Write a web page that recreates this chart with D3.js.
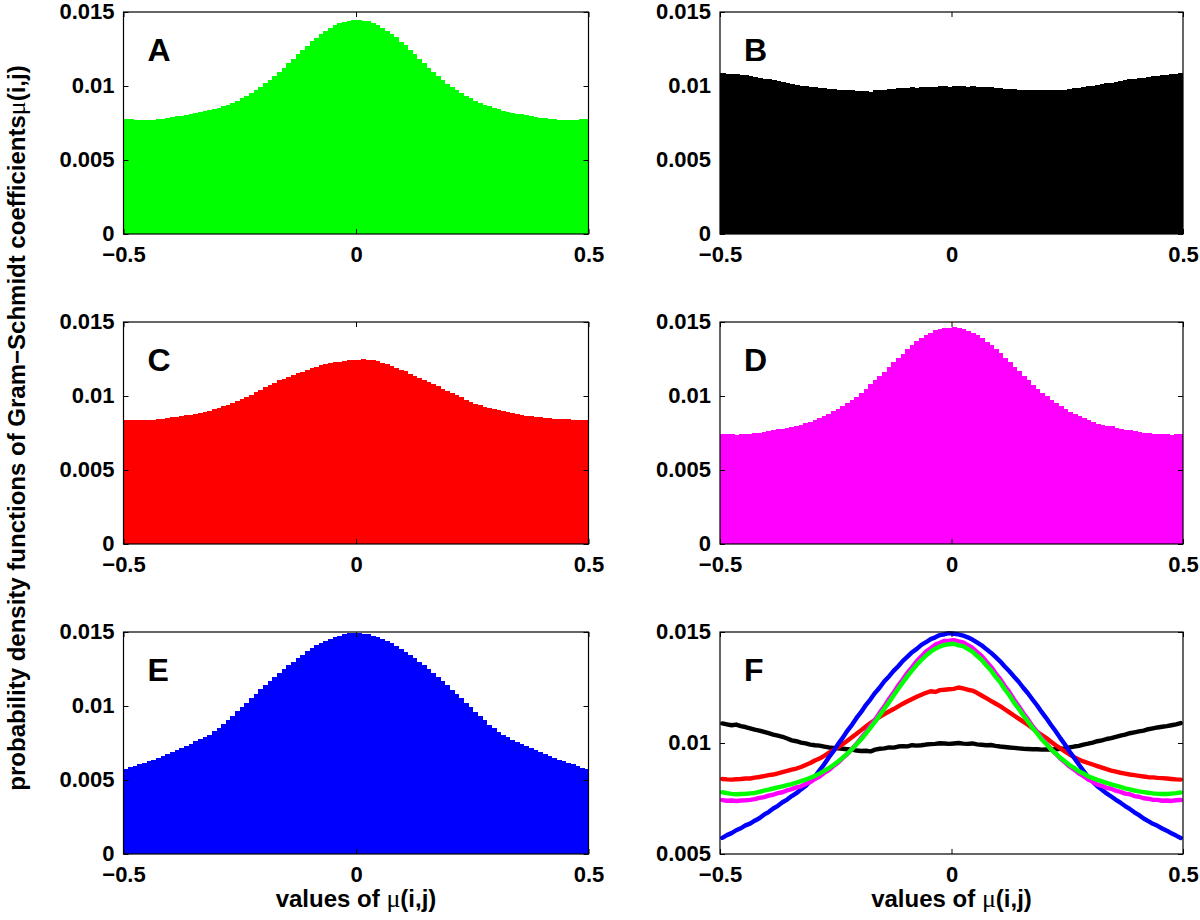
<!DOCTYPE html>
<html>
<head>
<meta charset="utf-8">
<script src="https://cdn.jsdelivr.net/npm/d3@7"></script>
<style>
  html, body { margin: 0; padding: 0; background: #fff; }
  svg { display: block; }
  text { font-family: "Liberation Sans", Arial, Helvetica, sans-serif; font-weight: bold; fill: #000; }
</style>
</head>
<body>
<svg id="chart" width="1200" height="920"></svg>
<script>
// ---------------- DATA (100 histogram bins from -0.5 to 0.5, bin width 0.01) ----------------
const panelLetters = ["A", "B", "C", "D", "E", "F"];
const xTickValues = [-0.5, 0, 0.5];
const xTickLabels = ["\u22120.5", "0", "0.5"];
const yTickValues = [0, 0.005, 0.01, 0.015];
const yTickLabels = ["0", "0.005", "0.01", "0.015"];
const yTickValuesF = [0.005, 0.01, 0.015];
const yTickLabelsF = ["0.005", "0.01", "0.015"];

// A – green
const pdfA = [
  0.00778,0.00774,0.00771,0.00769,0.00770,0.00771,0.00773,0.00775,0.00780,0.00785,
  0.00790,0.00795,0.00800,0.00805,0.00810,0.00815,0.00822,0.00828,0.00835,0.00843,
  0.00852,0.00862,0.00874,0.00887,0.00901,0.00917,0.00934,0.00952,0.00972,0.00994,
  0.01017,0.01042,0.01069,0.01096,0.01125,0.01154,0.01184,0.01214,0.01244,0.01273,
  0.01301,0.01327,0.01352,0.01374,0.01394,0.01411,0.01425,0.01435,0.01442,0.01445,
  0.01447,0.01440,0.01436,0.01424,0.01412,0.01393,0.01375,0.01350,0.01328,0.01299,
  0.01274,0.01242,0.01215,0.01182,0.01155,0.01124,0.01097,0.01068,0.01043,0.01016,
  0.00995,0.00971,0.00953,0.00933,0.00918,0.00900,0.00888,0.00873,0.00863,0.00850,
  0.00842,0.00834,0.00827,0.00820,0.00814,0.00808,0.00802,0.00796,0.00791,0.00786,
  0.00782,0.00779,0.00776,0.00773,0.00771,0.00770,0.00770,0.00772,0.00774,0.00777
];
// B – black
const pdfB = [
  0.01088,0.01084,0.01080,0.01083,0.01076,0.01072,0.01066,0.01060,0.01056,0.01050,
  0.01044,0.01038,0.01033,0.01028,0.01020,0.01012,0.01008,0.01002,0.00998,0.00993,
  0.00990,0.00988,0.00984,0.00980,0.00978,0.00976,0.00974,0.00972,0.00970,0.00966,
  0.00964,0.00965,0.00962,0.00970,0.00974,0.00976,0.00980,0.00979,0.00984,0.00986,
  0.00985,0.00990,0.00988,0.00990,0.00993,0.00995,0.00996,0.00999,0.00998,0.00996,
  0.00998,0.01000,0.00997,0.00996,0.00998,0.00994,0.00992,0.00990,0.00991,0.00987,
  0.00984,0.00982,0.00980,0.00978,0.00976,0.00974,0.00973,0.00972,0.00972,0.00970,
  0.00971,0.00970,0.00972,0.00974,0.00976,0.00980,0.00984,0.00987,0.00993,0.00997,
  0.01002,0.01008,0.01012,0.01018,0.01022,0.01028,0.01033,0.01038,0.01044,0.01048,
  0.01052,0.01056,0.01062,0.01066,0.01070,0.01073,0.01076,0.01080,0.01084,0.01090
];
// C – red
const pdfC = [
  0.00838,0.00836,0.00835,0.00837,0.00838,0.00840,0.00840,0.00844,0.00847,0.00851,
  0.00855,0.00858,0.00863,0.00869,0.00874,0.00880,0.00885,0.00892,0.00901,0.00910,
  0.00921,0.00930,0.00942,0.00955,0.00968,0.00981,0.00995,0.01010,0.01026,0.01042,
  0.01058,0.01074,0.01090,0.01105,0.01118,0.01130,0.01142,0.01153,0.01165,0.01177,
  0.01188,0.01198,0.01208,0.01217,0.01226,0.01233,0.01230,0.01238,0.01240,0.01242,
  0.01244,0.01250,0.01246,0.01240,0.01236,0.01226,0.01214,0.01202,0.01190,0.01178,
  0.01166,0.01152,0.01138,0.01124,0.01110,0.01096,0.01082,0.01066,0.01050,0.01036,
  0.01022,0.01006,0.00990,0.00976,0.00962,0.00948,0.00936,0.00926,0.00917,0.00910,
  0.00903,0.00896,0.00889,0.00882,0.00876,0.00871,0.00866,0.00862,0.00858,0.00855,
  0.00852,0.00849,0.00846,0.00845,0.00843,0.00842,0.00840,0.00838,0.00836,0.00835
];
// D – magenta
const pdfD = [
  0.00743,0.00740,0.00741,0.00739,0.00741,0.00742,0.00744,0.00747,0.00753,0.00756,
  0.00763,0.00767,0.00774,0.00778,0.00787,0.00792,0.00800,0.00805,0.00815,0.00824,
  0.00838,0.00849,0.00865,0.00878,0.00896,0.00911,0.00932,0.00950,0.00974,0.00996,
  0.01023,0.01048,0.01078,0.01105,0.01137,0.01165,0.01198,0.01227,0.01259,0.01287,
  0.01317,0.01342,0.01369,0.01390,0.01412,0.01427,0.01443,0.01451,0.01460,0.01461,
  0.01463,0.01458,0.01453,0.01441,0.01429,0.01410,0.01392,0.01367,0.01344,0.01315,
  0.01289,0.01257,0.01229,0.01196,0.01167,0.01135,0.01107,0.01076,0.01050,0.01021,
  0.00998,0.00972,0.00952,0.00930,0.00913,0.00894,0.00880,0.00863,0.00851,0.00836,
  0.00826,0.00813,0.00807,0.00798,0.00794,0.00785,0.00780,0.00772,0.00769,0.00761,
  0.00758,0.00751,0.00749,0.00744,0.00744,0.00740,0.00741,0.00739,0.00742,0.00743
];
// E – blue
const pdfE = [
  0.00573,0.00585,0.00594,0.00607,0.00616,0.00629,0.00637,0.00650,0.00661,0.00677,
  0.00689,0.00705,0.00717,0.00733,0.00745,0.00761,0.00774,0.00791,0.00806,0.00828,
  0.00849,0.00877,0.00904,0.00935,0.00963,0.00995,0.01023,0.01055,0.01082,0.01113,
  0.01140,0.01171,0.01197,0.01226,0.01250,0.01278,0.01300,0.01325,0.01346,0.01370,
  0.01389,0.01409,0.01424,0.01442,0.01454,0.01468,0.01476,0.01486,0.01490,0.01495,
  0.01492,0.01489,0.01484,0.01476,0.01466,0.01453,0.01440,0.01423,0.01407,0.01388,
  0.01368,0.01345,0.01323,0.01299,0.01276,0.01249,0.01224,0.01196,0.01169,0.01139,
  0.01111,0.01081,0.01053,0.01022,0.00993,0.00962,0.00933,0.00903,0.00875,0.00848,
  0.00826,0.00805,0.00789,0.00773,0.00759,0.00744,0.00731,0.00716,0.00703,0.00688,
  0.00675,0.00660,0.00648,0.00636,0.00627,0.00615,0.00605,0.00593,0.00583,0.00572
];

const seriesColors = { A: "#00ff00", B: "#000000", C: "#ff0000", D: "#ff00ff", E: "#0000ff" };
const seriesData = { A: pdfA, B: pdfB, C: pdfC, D: pdfD, E: pdfE };
const overlayOrder = ["B", "C", "E", "D", "A"];

const binEdges = d3.range(0, 101).map(i => -0.5 + i / 100);
const binCenters = d3.range(0, 100).map(i => -0.495 + i / 100);

// ---------------- LAYOUT ----------------
const colX = [[123.5, 588.5], [720, 1183]];
const rowY = [[12, 234], [322, 544], [632, 854]];
const tickFont = 22;

const svg = d3.select("#chart");

function drawAxes(g, x, y, yVals, yLabs) {
  const w = x.range()[1] - x.range()[0];
  const h = y.range()[0] - y.range()[1];
  const tickLen = 5;
  const bottom = d3.axisBottom(x).tickValues(xTickValues).tickFormat((d, i) => xTickLabels[i])
    .tickSizeInner(-tickLen).tickSizeOuter(0).tickPadding(12);
  const top = d3.axisTop(x).tickValues(xTickValues).tickFormat("")
    .tickSizeInner(-tickLen).tickSizeOuter(0);
  const left = d3.axisLeft(y).tickValues(yVals).tickFormat((d, i) => yLabs[i])
    .tickSizeInner(-tickLen).tickSizeOuter(0).tickPadding(9);
  const right = d3.axisRight(y).tickValues(yVals).tickFormat("")
    .tickSizeInner(-tickLen).tickSizeOuter(0);

  const gb = g.append("g").attr("transform", `translate(0,${h})`).call(bottom);
  const gt = g.append("g").call(top);
  const gl = g.append("g").call(left);
  const gr = g.append("g").attr("transform", `translate(${w},0)`).call(right);
  [gb, gt, gl, gr].forEach(a => {
    a.select(".domain").remove();
    a.selectAll("line").attr("stroke", "#000").attr("stroke-width", 1);
    a.selectAll("text").attr("font-size", tickFont).attr("font-weight", "bold")
      .attr("font-family", "'Liberation Sans', Arial, Helvetica, sans-serif").attr("fill", "#000");
  });
  gb.selectAll("text").attr("dy", "0.71em");
  gl.selectAll("text").attr("dy", "0.30em");
  g.append("rect").attr("x", 0).attr("y", 0).attr("width", w).attr("height", h)
    .attr("fill", "none").attr("stroke", "#000").attr("stroke-width", 1.2);
}

const panels = [
  { key: "A", col: 0, row: 0 },
  { key: "B", col: 1, row: 0 },
  { key: "C", col: 0, row: 1 },
  { key: "D", col: 1, row: 1 },
  { key: "E", col: 0, row: 2 },
  { key: "F", col: 1, row: 2 }
];

panels.forEach(p => {
  const [x0, x1] = colX[p.col];
  const [y0, y1] = rowY[p.row];
  const w = x1 - x0, h = y1 - y0;
  const g = svg.append("g").attr("transform", `translate(${x0},${y0})`);
  const x = d3.scaleLinear().domain([-0.5, 0.5]).range([0, w]);

  if (p.key !== "F") {
    const y = d3.scaleLinear().domain([0, 0.015]).range([h, 0]);
    const vals = seriesData[p.key];
    g.append("g").attr("shape-rendering", "crispEdges")
      .selectAll("rect").data(vals).join("rect")
      .attr("x", (d, i) => x(binEdges[i]))
      .attr("width", (d, i) => Math.min(x(binEdges[i + 1]) - x(binEdges[i]) + 1, w - x(binEdges[i])))
      .attr("y", d => y(d))
      .attr("height", d => y(0) - y(d))
      .attr("fill", seriesColors[p.key]);
    drawAxes(g, x, y, yTickValues, yTickLabels);
  } else {
    const y = d3.scaleLinear().domain([0.005, 0.015]).range([h, 0]);
    const line = d3.line().x((d, i) => x(binCenters[i])).y(d => y(d));
    overlayOrder.forEach(k => {
      g.append("path").datum(seriesData[k])
        .attr("d", line)
        .attr("fill", "none")
        .attr("stroke", seriesColors[k])
        .attr("stroke-width", 4.4)
        .attr("stroke-linejoin", "round")
        .attr("stroke-linecap", "round");
    });
    drawAxes(g, x, y, yTickValuesF, yTickLabelsF);
  }
  g.append("text").attr("x", 24).attr("y", 49)
    .attr("font-size", 32).text(p.key);
});

// axis titles
function titleWithMu(sel, prefix) {
  sel.append("tspan").text(prefix);
  sel.append("tspan").attr("font-family", "'Liberation Serif', 'Times New Roman', serif")
    .attr("font-weight", "normal").attr("font-size", 26).text("\u03bc");
  sel.append("tspan").text("(i,j)");
}
[0, 1].forEach(c => {
  const cx = (colX[c][0] + colX[c][1]) / 2;
  const t = svg.append("text").attr("x", cx).attr("y", 907)
    .attr("text-anchor", "middle").attr("font-size", 24);
  titleWithMu(t, "values of ");
});
const yl = svg.append("text")
  .attr("transform", "translate(25,428) rotate(-90)")
  .attr("text-anchor", "middle").attr("font-size", 24);
titleWithMu(yl, "probability density functions of Gram\u2212Schmidt coefficients");
</script>
</body>
</html>
